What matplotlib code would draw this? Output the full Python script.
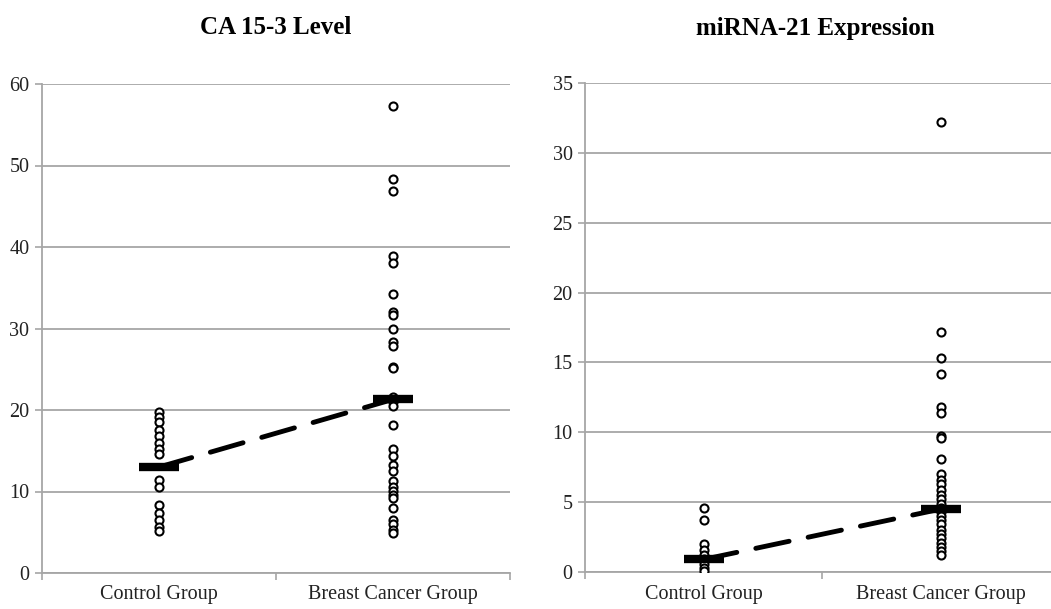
import numpy as np
import matplotlib.pyplot as plt

plt.rcParams['font.family'] = ['Liberation Serif', 'DejaVu Serif']

groups = ['Control Group', 'Breast Cancer Group']

# CA 15-3 level
ca_control = [19.8, 19.2, 18.5, 17.6, 16.8, 16.0, 15.2, 14.6,
              11.4, 10.5, 8.3, 7.4, 6.5, 5.7, 5.1]
ca_breast = [57.3, 48.3, 46.9, 38.9, 38.0, 34.2, 32.0, 31.6, 30.0, 28.4, 27.8,
             25.3, 25.1, 21.6, 21.0, 20.5, 18.1, 15.2, 14.4, 13.3, 12.5, 11.3,
             10.6, 10.1, 9.6, 9.2, 8.0, 6.5, 6.0, 5.3, 4.9]
ca_median = [13.0, 21.3]

# miRNA-21 expression
mir_control = [4.6, 3.7, 2.0, 1.6, 1.2, 0.9, 0.6, 0.3, 0.1]
mir_breast = [32.2, 17.2, 15.3, 14.2, 11.8, 11.4, 9.7, 9.6, 8.1, 7.0, 6.6,
              6.3, 5.9, 5.5, 5.2, 4.9, 4.6, 4.3, 4.0, 3.7, 3.4, 3.0, 2.7,
              2.4, 2.1, 1.8, 1.5, 1.2]
mir_median = [0.9, 4.5]

panels = [
    ('CA 15-3 Level', ca_control, ca_breast, ca_median, 60, 10,
     [42 / 1051, 36 / 609, 468 / 1051, 489 / 609], 276),
    ('miRNA-21 Expression', mir_control, mir_breast, mir_median, 35, 5,
     [585 / 1051, 37 / 609, 474 / 1051, 489 / 609], 815),
]

fig = plt.figure(figsize=(10.51, 6.09), dpi=100)
grid_c = '#a6a6a6'

for title, ctrl, brst, med, ymax, step, rect, tx in panels:
    ax = fig.add_axes(rect)
    xs = [0.5, 1.5]
    ax.plot([xs[0]] * len(ctrl), ctrl, 'o', ms=5.8, mfc='white', mec='black',
            mew=1.5, zorder=3)
    ax.plot([xs[1]] * len(brst), brst, 'o', ms=5.8, mfc='white', mec='black',
            mew=1.5, zorder=3)
    ax.plot(xs, med, color='black', lw=3.5, dashes=(7, 4),
            solid_capstyle='round', dash_capstyle='round', zorder=4)
    ax.plot(xs, med, '_', color='black', ms=29, mew=6, zorder=5)

    ax.set_xlim(0, 2)
    ax.set_ylim(0, ymax)
    ax.set_yticks(np.arange(0, ymax + 1, step))
    ax.set_xticks([0, 1, 2])
    ax.set_xticklabels([])
    ax.set_xticks(xs, minor=True)
    ax.set_xticklabels(groups, minor=True)
    ax.tick_params(axis='x', which='minor', length=0, pad=9, labelsize=14.5,
                   labelcolor='#222222')
    ax.tick_params(axis='x', which='major', length=5, color=grid_c, width=1.2)
    ax.tick_params(axis='y', length=5, color=grid_c, width=1.2, labelsize=14.5,
                   pad=4, labelcolor='#222222')
    ax.yaxis.grid(True, color=grid_c, lw=1.3)
    ax.set_axisbelow(True)
    for s in ['top', 'right']:
        ax.spines[s].set_visible(False)
    for s in ['left', 'bottom']:
        ax.spines[s].set_color(grid_c)
        ax.spines[s].set_linewidth(1.3)

    fig.text(tx / 1051, 1 - 28 / 609, title, ha='center', va='center',
             fontsize=18, fontweight='bold')

fig.savefig('out.png', dpi=100)
